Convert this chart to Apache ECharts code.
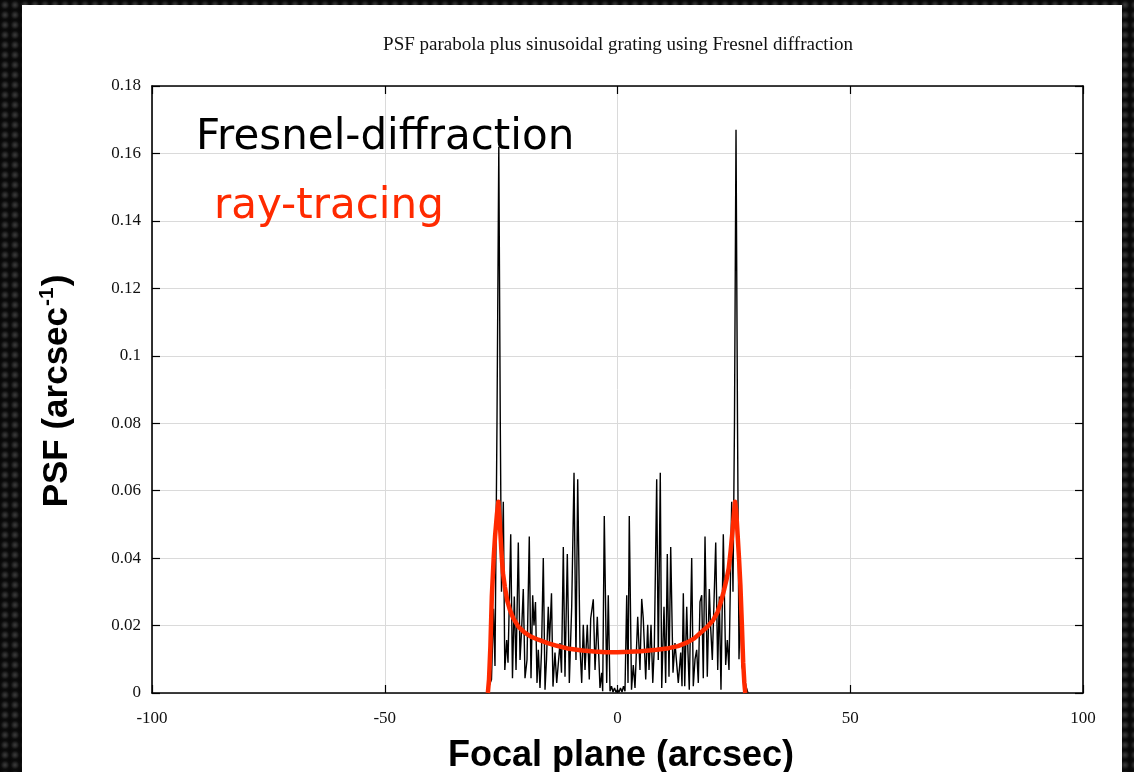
<!DOCTYPE html>
<html>
<head>
<meta charset="utf-8">
<script src="https://cdn.jsdelivr.net/npm/echarts@6/dist/echarts.min.js"></script>
<style>
  html, body { margin: 0; padding: 0; width: 1134px; height: 772px; overflow: hidden; }
  body {
    background-color: #161616;
    background-image: radial-gradient(circle at 50% 50%, #3c3c3c 0, #262626 30%, #0c0c0c 60%, #050505 100%);
    background-size: 10px 10px;
  }
  #panel { position: absolute; left: 22px; top: 5px; width: 1100px; height: 767px; background: #fff; }
  #chart { position: absolute; left: 0; top: 0; width: 1134px; height: 772px; }
</style>
</head>
<body>
<div id="panel"></div>
<div id="chart"></div>
<script>
// PSF across the focal plane (arcsec), Fresnel-diffraction calculation
const fresnelX = [
  -28.10, -27.60, -27.07, -26.64, -26.32, -25.89, -25.50, -25.18, -24.92, -24.53,
  -24.21, -23.80, -23.52, -22.94, -22.56, -22.17, -21.80, -21.31, -20.94, -20.58,
  -20.24, -19.87, -19.44, -18.95, -18.58, -18.22, -17.94, -17.62, -17.29, -17.01,
  -16.65, -16.33, -15.94, -15.57, -15.25, -14.87, -14.61, -14.18, -13.86, -13.43,
  -13.06, -12.35, -12.03, -11.64, -11.28, -10.78, -10.35, -9.84, -9.34, -8.92,
  -8.55, -8.06, -7.69, -7.35, -6.98, -6.49, -6.06, -5.76, -5.20, -4.83,
  -4.34, -3.76, -3.39, -3.18, -2.84, -2.32, -1.98, -1.61, -1.29, -0.97,
  -0.64, -0.32, 0.00, 0.32, 0.64, 0.97, 1.29, 1.61, 1.98, 2.26,
  2.53, 3.01, 3.39, 3.76, 4.34, 4.83, 5.20, 5.54, 6.06, 6.49,
  6.77, 7.20, 7.58, 7.91, 8.42, 8.76, 9.19, 9.50, 9.99, 10.35,
  10.70, 11.06, 11.43, 11.92, 12.35, 13.06, 13.58, 13.86, 14.14, 14.44,
  14.87, 15.14, 15.42, 15.94, 16.28, 16.65, 17.01, 17.36, 17.72, 18.09,
  18.43, 18.80, 19.29, 19.72, 20.02, 20.37, 21.10, 21.53, 21.87, 22.23,
  22.73, 23.24, 23.59, 23.95, 24.53, 24.81, 25.13, 25.46, 25.78, 26.10,
  26.42, 26.74, 27.17, 27.60, 28.03
];
const fresnelY = [
  0, 0.002, 0.004, 0.025, 0.008, 0.080, 0.162, 0.080, 0.030, 0.0567,
  0.0068, 0.0157, 0.009, 0.0471, 0.0044, 0.0286, 0.0068, 0.0446, 0.0098, 0.0193,
  0.0308, 0.0044, 0.0098, 0.0464, 0.0044, 0.029, 0.020, 0.027, 0.003, 0.0128,
  0.0015, 0.012, 0.040, 0.001, 0.010, 0.0256, 0.015, 0.0296, 0.0019, 0.012,
  0.003, 0.0148, 0.006, 0.0433, 0.0048, 0.0412, 0.003, 0.0256, 0.0653, 0.0098,
  0.0634, 0.0137, 0.003, 0.0202, 0.0068, 0.0202, 0.004, 0.0221, 0.0278, 0.0068,
  0.0226, 0.0015, 0.006, 0.0005, 0.0525, 0.003, 0.029, 0.0005, 0.002, 0.0003,
  0.0015, 0.0002, 0.001, 0.0002, 0.0015, 0.0003, 0.002, 0.0005, 0.029, 0.003,
  0.0525, 0.001, 0.0083, 0.0015, 0.0226, 0.0068, 0.0279, 0.022, 0.004, 0.0202,
  0.0068, 0.0202, 0.003, 0.0137, 0.0634, 0.0098, 0.0653, 0.0015, 0.0256, 0.003,
  0.0412, 0.0048, 0.0433, 0.006, 0.0148, 0.003, 0.012, 0.002, 0.0296, 0.002,
  0.0256, 0.012, 0.001, 0.040, 0.002, 0.010, 0.0128, 0.003, 0.027, 0.029,
  0.0044, 0.0464, 0.0048, 0.0308, 0.0193, 0.0098, 0.0446, 0.0068, 0.0286, 0.001,
  0.0471, 0.0083, 0.0157, 0.0068, 0.0567, 0.030, 0.080, 0.167, 0.080, 0.010,
  0.027, 0.008, 0.005, 0.002, 0
];

// PSF from ray tracing
const rayX = [
  -27.85, -27.6, -27.3, -27.0, -26.6, -26.3, -25.9, -25.6, -25.35, -25.1,
  -24.85, -24.6, -24.2, -23.7, -23.1, -22.4, -21.3, -20.0, -18.6, -17.0,
  -15.0, -13.0, -10.4, -7.5, -5.0, -2.5, 0.0, 2.5, 5.0, 8.4,
  11.0, 13.0, 15.0, 16.5, 17.7, 19.2, 20.5, 21.5, 22.1, 22.8,
  23.4, 23.9, 24.3, 24.7, 25.0, 25.25, 25.5, 25.8, 26.1, 26.4,
  26.7, 27.0, 27.25, 27.45
];
const rayY = [
  0, 0.004, 0.014, 0.0285, 0.040, 0.0465, 0.053, 0.0567, 0.052, 0.046,
  0.040, 0.0355, 0.0315, 0.0275, 0.0246, 0.0222, 0.0197, 0.0180, 0.0167, 0.0158,
  0.0148, 0.0140, 0.0131, 0.0126, 0.0123, 0.0121, 0.0121, 0.0122, 0.0124, 0.0128,
  0.0133, 0.0139, 0.0150, 0.0162, 0.0177, 0.0195, 0.0215, 0.0240, 0.0265, 0.030,
  0.0335, 0.037, 0.042, 0.048, 0.053, 0.0567, 0.054, 0.047, 0.040, 0.032,
  0.021, 0.009, 0.003, 0
];

const xTicks = { min: -100, max: 100, step: 50 };
const yTicks = { min: 0, max: 0.18, step: 0.02 };

const titleText = 'PSF parabola plus sinusoidal grating using Fresnel diffraction';
const xName = 'Focal plane (arcsec)';
const fresnelLabel = 'Fresnel-diffraction';
const rayLabel = 'ray-tracing';

const zip = (xs, ys) => xs.map((x, i) => [x, ys[i]]);

const serif = '"Liberation Serif", "Times New Roman", serif';
const sans = '"Liberation Sans", Arial, sans-serif';
const gridColor = '#dadada';

const baseAxis = {
  type: 'value',
  axisLine: { show: true, onZero: false, lineStyle: { color: '#000', width: 1.6 } },
  axisTick: { show: true, inside: true, length: 8, lineStyle: { color: '#000', width: 1.2 } },
  splitLine: { show: false },
  axisLabel: { show: false }
};

const chart = echarts.init(document.getElementById('chart'), null, { renderer: 'canvas' });
chart.setOption({
  backgroundColor: 'transparent',
  animation: false,
  grid: { left: 152, top: 86, right: 51, bottom: 79 },
  xAxis: [
    Object.assign({}, baseAxis, {
      position: 'bottom',
      min: xTicks.min, max: xTicks.max, interval: xTicks.step,
      splitLine: { show: true, lineStyle: { color: gridColor, width: 1 } },
      axisLabel: { show: true, margin: 17, fontFamily: serif, fontSize: 17, color: '#111' }
    }),
    Object.assign({}, baseAxis, {
      position: 'top',
      min: xTicks.min, max: xTicks.max, interval: xTicks.step
    })
  ],
  yAxis: [
    Object.assign({}, baseAxis, {
      position: 'left',
      min: yTicks.min, max: yTicks.max, interval: yTicks.step,
      splitLine: { show: true, lineStyle: { color: gridColor, width: 1 } },
      axisLabel: {
        show: true, margin: 11, fontFamily: serif, fontSize: 17, color: '#111',
        formatter: v => String(Math.round(v * 100) / 100)
      }
    }),
    Object.assign({}, baseAxis, {
      position: 'right',
      min: yTicks.min, max: yTicks.max, interval: yTicks.step
    })
  ],
  series: [
    {
      name: fresnelLabel,
      type: 'line',
      data: zip(fresnelX, fresnelY),
      showSymbol: false,
      lineStyle: { color: '#000', width: 1.4 },
      z: 3
    },
    {
      name: rayLabel,
      type: 'line',
      data: zip(rayX, rayY),
      showSymbol: false,
      lineStyle: { color: '#ff2a00', width: 4.5, join: 'round', cap: 'butt' },
      z: 4
    }
  ],
  graphic: [
    {
      type: 'text', x: 618, y: 45,
      style: { text: titleText, font: '19px ' + serif, fill: '#111', textAlign: 'center', textVerticalAlign: 'middle' },
      z: 10
    },
    {
      type: 'text', x: 196, y: 138,
      style: { text: fresnelLabel, font: '42px "DejaVu Sans", sans-serif', fill: '#000', textAlign: 'left', textVerticalAlign: 'middle' },
      z: 10
    },
    {
      type: 'text', x: 214, y: 207,
      style: { text: rayLabel, font: '42px "DejaVu Sans", sans-serif', fill: '#ff2a00', textAlign: 'left', textVerticalAlign: 'middle' },
      z: 10
    },
    {
      type: 'text', x: 621, y: 756,
      style: { text: xName, font: 'bold 36px ' + sans, fill: '#000', textAlign: 'center', textVerticalAlign: 'middle' },
      z: 10
    },
    {
      type: 'text', x: 57, y: 391, rotation: Math.PI / 2,
      style: {
        text: 'PSF (arcsec{sup|-1})',
        font: 'bold 35px ' + sans,
        fill: '#000',
        textAlign: 'center',
        textVerticalAlign: 'middle',
        rich: {
          sup: { fontFamily: sans, fontWeight: 'bold', fontSize: 21, verticalAlign: 'top', lineHeight: 40, padding: [0, 1, 0, 1] }
        }
      },
      z: 10
    }
  ]
});
</script>
</body>
</html>
